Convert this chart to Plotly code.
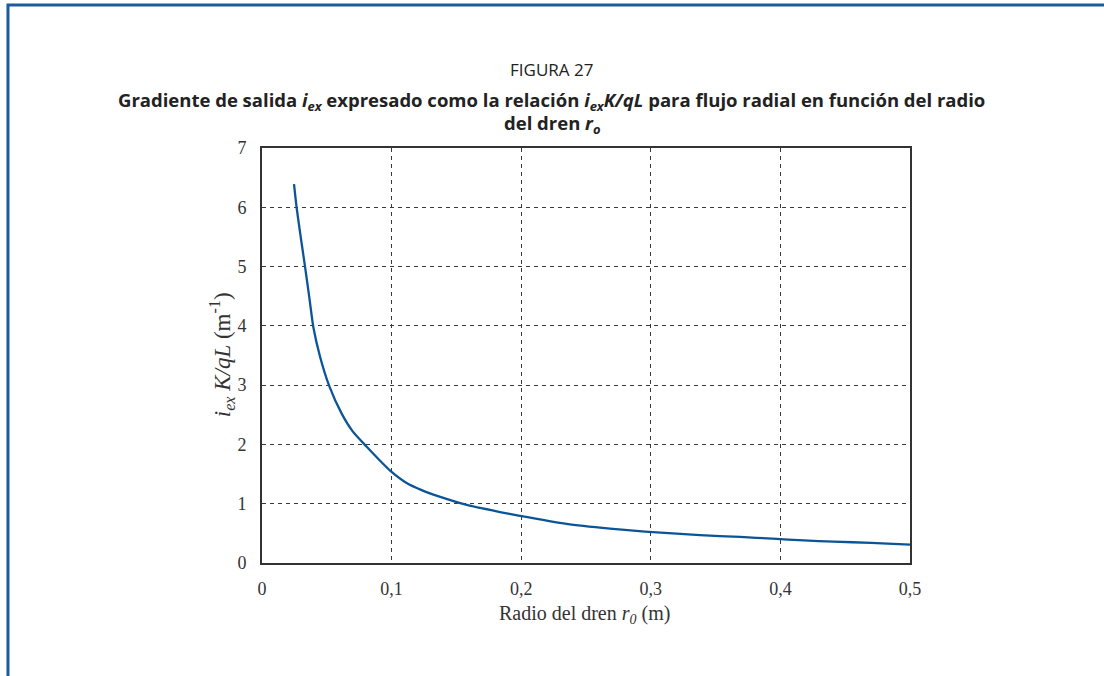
import plotly.graph_objects as go

# Data
radius_m = [0.0247, 0.0268, 0.0300, 0.0332, 0.0365, 0.0396, 0.0448, 0.0520, 0.0615,
            0.0700, 0.0808, 0.0900, 0.0993, 0.1116, 0.1232, 0.1370, 0.1580, 0.1836,
            0.1980, 0.2350, 0.2685, 0.2955, 0.3380, 0.3690, 0.3940, 0.4180, 0.4410,
            0.4700, 0.5000]
ratio = [6.39, 5.98, 5.48, 5.00, 4.48, 3.98, 3.48, 2.98, 2.52,
         2.22, 1.96, 1.75, 1.55, 1.35, 1.23, 1.12, 0.98, 0.86,
         0.80, 0.66, 0.58, 0.53, 0.47, 0.44, 0.41, 0.38, 0.36,
         0.34, 0.31]

x_tickvals = [0, 0.1, 0.2, 0.3, 0.4, 0.5]
x_ticktext = ["0", "0,1", "0,2", "0,3", "0,4", "0,5"]
y_tickvals = [0, 1, 2, 3, 4, 5, 6, 7]
y_ticktext = ["0", "1", "2", "3", "4", "5", "6", "7"]

fig = go.Figure()
fig.add_trace(go.Scatter(
    x=radius_m, y=ratio, mode="lines",
    line=dict(color="#0b5597", width=2.3, shape="spline", smoothing=0.6),
    hoverinfo="skip", showlegend=False,
))

serif = "Liberation Serif, Times New Roman, serif"
sans = "Open Sans, Noto Sans, sans-serif"
axis_common = dict(
    showline=True, linecolor="#333333", linewidth=2, mirror=True,
    showgrid=True, gridcolor="#3a3a3a", gridwidth=1, griddash="4px,4px",
    zeroline=False, ticks="", tickfont=dict(family=serif, size=18, color="#333333"),
)

fig.update_layout(
    width=1104, height=676,
    margin=dict(l=262, r=194, t=148, b=113),
    paper_bgcolor="white", plot_bgcolor="white",
    separators=", ",
    xaxis=dict(range=[0, 0.5], tickvals=x_tickvals, ticktext=x_ticktext,
               ticklabelstandoff=8, **axis_common),
    yaxis=dict(range=[0, 7], tickvals=y_tickvals, ticktext=y_ticktext,
               ticklabelstandoff=10, **axis_common),
    annotations=[
        dict(text="FIGURA 27", xref="paper", yref="paper", x=0.4475, y=1.188,
             showarrow=False, xanchor="center", yanchor="middle",
             font=dict(family=sans, size=17, color="#222222")),
        dict(text="<b>Gradiente de salida <i>i<sub>ex</sub></i> expresado como la relación "
                  "<i>i<sub>ex</sub>K/qL</i> para flujo radial en función del radio</b>",
             xref="paper", yref="paper", x=0.4475, y=1.113,
             showarrow=False, xanchor="center", yanchor="middle",
             font=dict(family=sans, size=18.5, color="#222222")),
        dict(text="<b>del dren <i>r<sub>o</sub></i></b>",
             xref="paper", yref="paper", x=0.4475, y=1.057,
             showarrow=False, xanchor="center", yanchor="middle",
             font=dict(family=sans, size=18.5, color="#222222")),
        dict(text="<i>i<sub>ex</sub> K/qL</i> (m<sup>-1</sup>)",
             xref="paper", yref="paper", x=-0.0630, y=0.501, textangle=-90,
             showarrow=False, xanchor="center", yanchor="middle",
             font=dict(family=serif, size=23, color="#333333")),
        dict(text="Radio del dren <i>r<sub>0</sub></i> (m)",
             xref="paper", yref="paper", x=0.498, y=-0.125,
             showarrow=False, xanchor="center", yanchor="middle",
             font=dict(family=serif, size=20, color="#333333")),
    ],
    shapes=[
        dict(type="rect", xref="paper", yref="paper",
             x0=-0.392, x1=1.32, y0=-0.30, y1=1.3446,
             line=dict(color="#1a5c9c", width=3), fillcolor="rgba(0,0,0,0)", layer="below"),
    ],
)

fig.write_html("out.html", config={"displayModeBar": False},
               post_script="document.body.style.margin='0';")
